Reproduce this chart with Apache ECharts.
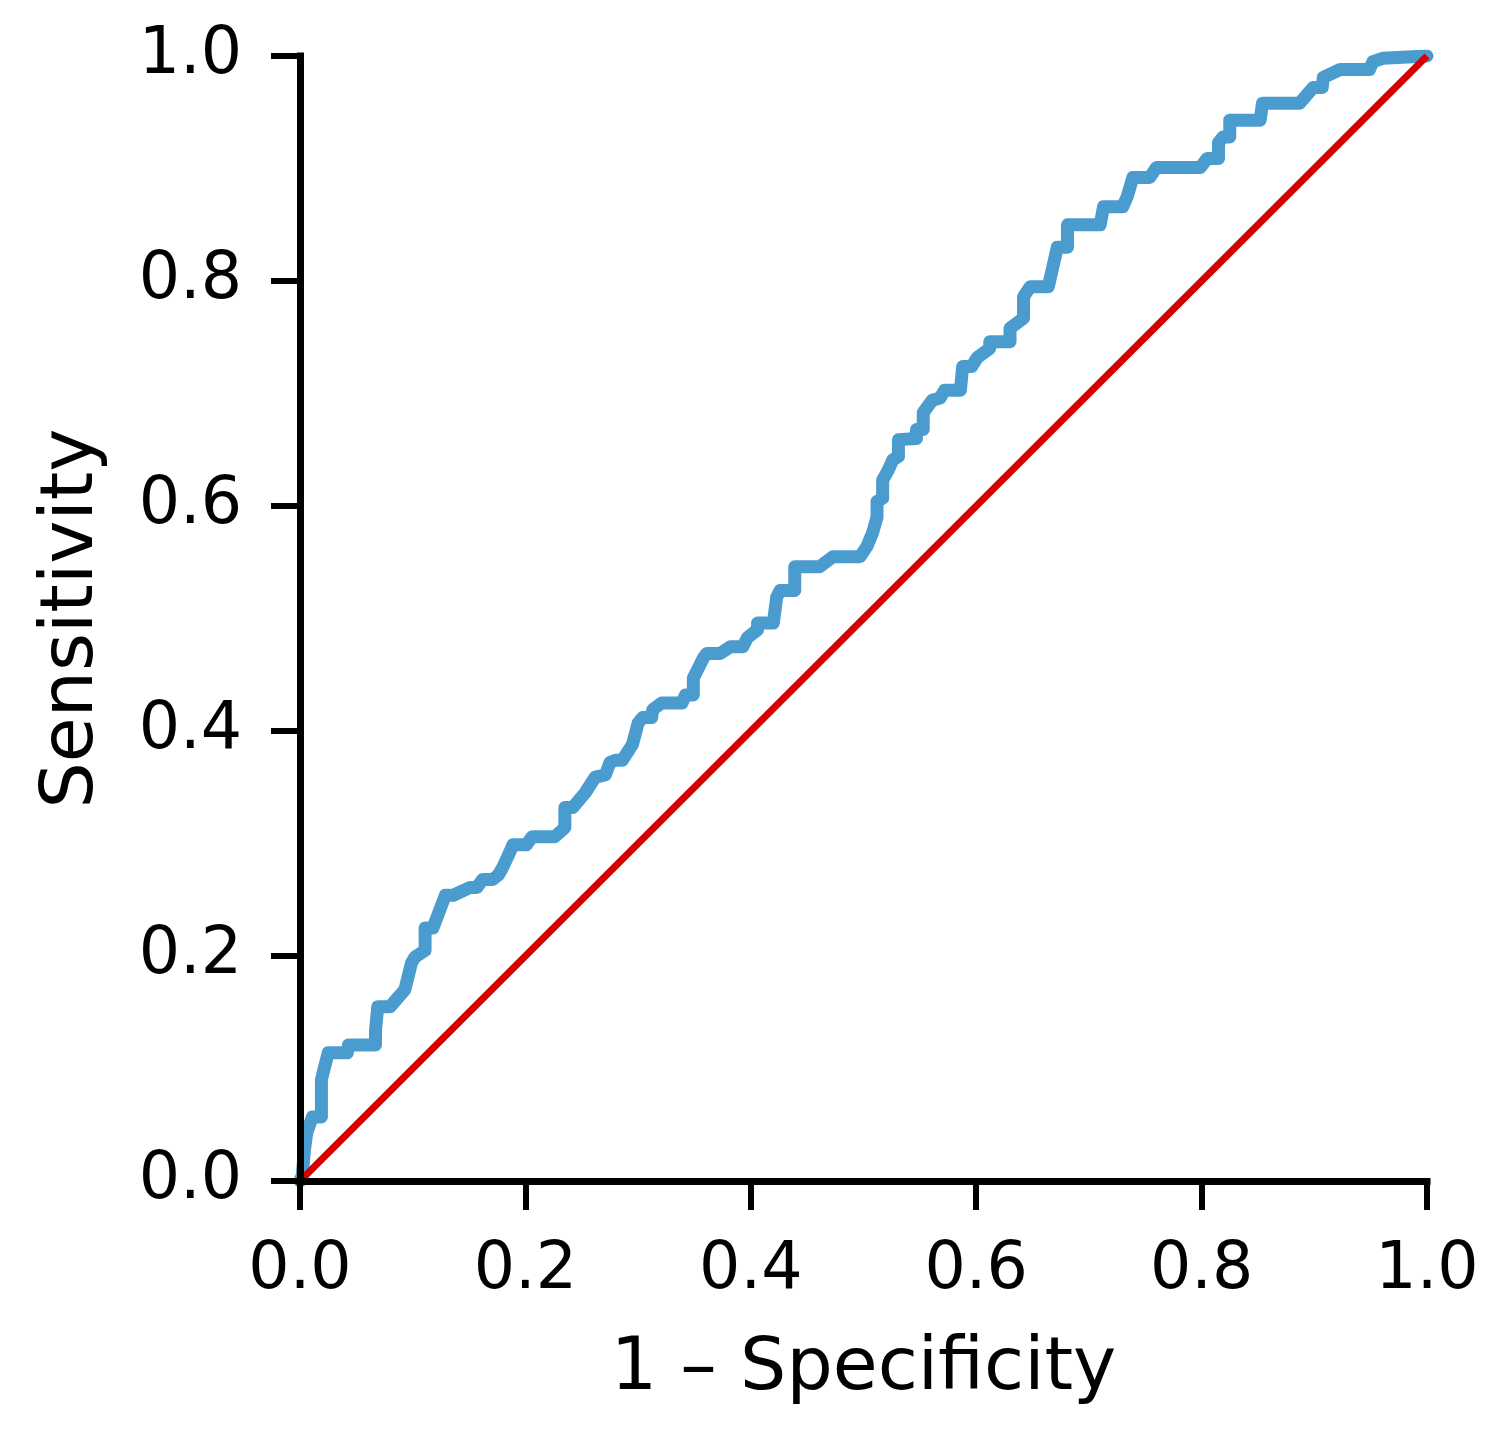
<!DOCTYPE html>
<html>
<head>
<meta charset="utf-8">
<title>ROC curve</title>
<script src="https://cdn.jsdelivr.net/npm/echarts@6/dist/echarts.min.js"></script>
<style>
  html, body { margin: 0; padding: 0; background: #fff; }
  #chart { width: 1492px; height: 1447px; }
</style>
</head>
<body>
<div id="chart"></div>
<script>
// ROC curve points
const fpr = [
  0, 0.002, 0.004, 0.006, 0.011, 0.019, 0.019, 0.025, 0.042, 0.043,
  0.067, 0.067, 0.069, 0.080, 0.093, 0.099, 0.102, 0.111, 0.111, 0.118,
  0.129, 0.136, 0.151, 0.157, 0.162, 0.171, 0.176, 0.180, 0.186, 0.189,
  0.201, 0.206, 0.226, 0.235, 0.235, 0.242, 0.253, 0.262, 0.271, 0.275,
  0.280, 0.286, 0.295, 0.300, 0.304, 0.312, 0.313, 0.321, 0.339, 0.342,
  0.349, 0.349, 0.358, 0.361, 0.373, 0.382, 0.393, 0.397, 0.406, 0.406,
  0.420, 0.423, 0.426, 0.439, 0.439, 0.461, 0.473, 0.497, 0.503, 0.508,
  0.512, 0.512, 0.517, 0.517, 0.522, 0.526, 0.531, 0.531, 0.547, 0.547,
  0.553, 0.553, 0.561, 0.568, 0.572, 0.586, 0.588, 0.596, 0.601, 0.612,
  0.612, 0.630, 0.630, 0.642, 0.642, 0.648, 0.664, 0.672, 0.681, 0.681,
  0.710, 0.713, 0.730, 0.734, 0.739, 0.754, 0.760, 0.799, 0.805, 0.815,
  0.815, 0.819, 0.825, 0.825, 0.852, 0.854, 0.887, 0.899, 0.907, 0.908,
  0.923, 0.949, 0.952, 0.961, 1.0
]
const tpr = [
  0, 0.005, 0.028, 0.043, 0.057, 0.057, 0.090, 0.114, 0.114, 0.121,
  0.121, 0.134, 0.155, 0.155, 0.170, 0.194, 0.199, 0.205, 0.225, 0.225,
  0.254, 0.254, 0.261, 0.261, 0.268, 0.268, 0.272, 0.279, 0.292, 0.299,
  0.299, 0.306, 0.306, 0.314, 0.332, 0.332, 0.345, 0.359, 0.361, 0.372,
  0.374, 0.374, 0.388, 0.407, 0.412, 0.412, 0.419, 0.425, 0.425, 0.432,
  0.432, 0.447, 0.465, 0.469, 0.469, 0.475, 0.475, 0.483, 0.490, 0.496,
  0.496, 0.519, 0.525, 0.525, 0.546, 0.546, 0.555, 0.555, 0.564, 0.576,
  0.590, 0.604, 0.607, 0.623, 0.632, 0.641, 0.644, 0.659, 0.660, 0.668,
  0.668, 0.683, 0.694, 0.696, 0.703, 0.703, 0.724, 0.724, 0.732, 0.740,
  0.746, 0.746, 0.758, 0.767, 0.786, 0.795, 0.795, 0.830, 0.830, 0.850,
  0.850, 0.866, 0.866, 0.875, 0.892, 0.892, 0.901, 0.901, 0.909, 0.909,
  0.923, 0.928, 0.928, 0.943, 0.943, 0.958, 0.958, 0.972, 0.972, 0.981,
  0.988, 0.988, 0.995, 0.998, 1.0
]

// chance diagonal
const chanceFpr = [0, 1]
const chanceTpr = [0, 1]

const xAxisName = '1 \u2013 Specificity'
const yAxisName = 'Sensitivity'

const fontFamily = '"DejaVu Sans", sans-serif'

const zip = (xs, ys) => xs.map((x, i) => [x, ys[i]])

const axisCommon = {
  type: 'value',
  min: 0,
  max: 1,
  interval: 0.2,
  nameLocation: 'middle',
  z: 10,
  nameTextStyle: { color: '#000', fontSize: 73, fontFamily },
  axisLine: { show: true, lineStyle: { color: '#000', width: 7, cap: 'square' } },
  axisTick: { show: true, inside: false, length: 29, lineStyle: { color: '#000', width: 6 } },
  axisLabel: {
    color: '#000',
    fontSize: 65,
    fontFamily,
    formatter: (v) => v.toFixed(1)
  },
  splitLine: { show: false }
}

const chart = echarts.init(document.getElementById('chart'), null, { renderer: 'canvas' })

chart.setOption({
  backgroundColor: '#fff',
  animation: false,
  grid: { left: 300, right: 65, top: 56, bottom: 266, containLabel: false },
  xAxis: {
    ...axisCommon,
    name: xAxisName,
    nameGap: 153,
    axisLabel: { ...axisCommon.axisLabel, margin: 58 }
  },
  yAxis: {
    ...axisCommon,
    name: yAxisName,
    nameGap: 190,
    axisLabel: { ...axisCommon.axisLabel, margin: 58 }
  },
  series: [
    {
      name: 'ROC',
      type: 'line',
      data: zip(fpr, tpr),
      showSymbol: false,
      symbol: 'none',
      clip: true,
      lineStyle: { color: '#4a9ccf', width: 13, cap: 'round', join: 'round' },
      z: 2
    },
    {
      name: 'Chance',
      type: 'line',
      data: zip(chanceFpr, chanceTpr),
      showSymbol: false,
      symbol: 'none',
      clip: true,
      lineStyle: { color: '#d60000', width: 7 },
      z: 3
    }
  ]
})
</script>
</body>
</html>
